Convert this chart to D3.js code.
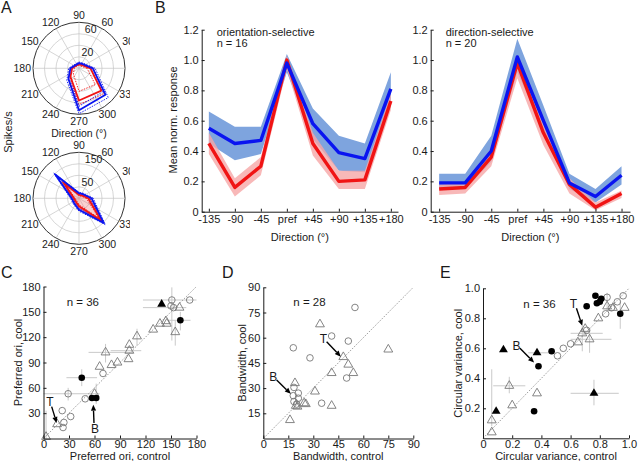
<!DOCTYPE html>
<html><head><meta charset="utf-8">
<script src="https://cdn.jsdelivr.net/npm/d3@7"></script>
<style>body{margin:0;background:#fff}svg{display:block}</style>
</head><body><svg id="c" width="640" height="461"></svg>
<script>
// ---------- DATA ----------
const directions = [0,45,90,135,180,225,270,315];
// Panel A top (direction-selective cell), spikes/s
const topBlue   = [24,10,9,8,15,26,73,65];
const topBlueLo = [20,8,7,6,12,22,66,58];
const topBlueHi = [28,12,11,10,18,30,79,72];
const topRed    = [20,8,7,7,12,21,56,55];
const topRedLo  = [14,5,5,5,8,14,40,40];
const topRedHi  = [25,10,9,9,15,25,63,62];
// Panel A bottom (orientation-selective cell)
const botBlue   = [55,25,22,146,32,30,50,152];
const botBlueLo = [48,20,18,135,27,25,44,142];
const botBlueHi = [62,30,26,156,37,35,56,162];
const botRed    = [40,18,15,94,22,20,35,136];
const botRedLo  = [32,13,11,80,17,15,28,122];
const botRedHi  = [48,23,19,108,27,25,42,150];
const polarAngleLabels = [0,30,60,90,120,150,180,210,240,270,300,330];

// Panel B
const bCategories = ["-135","-90","-45","pref","+45","+90","+135","+180"];
const bYTicks = [0,0.2,0.4,0.6,0.8,1.0,1.2];
const oriBlue   = [0.55,0.45,0.47,0.98,0.58,0.39,0.35,0.81];
const oriBlueLo = [0.45,0.34,0.38,0.92,0.48,0.27,0.26,0.70];
const oriBlueHi = [0.66,0.56,0.56,1.04,0.68,0.50,0.45,0.92];
const oriRed    = [0.45,0.16,0.30,1.00,0.45,0.20,0.21,0.73];
const oriRedLo  = [0.38,0.10,0.24,0.94,0.37,0.15,0.15,0.67];
const oriRedHi  = [0.52,0.22,0.36,1.03,0.52,0.27,0.27,0.78];
const dirBlue   = [0.19,0.19,0.40,1.02,0.60,0.19,0.10,0.24];
const dirBlueLo = [0.15,0.15,0.33,0.92,0.53,0.15,0.06,0.18];
const dirBlueHi = [0.25,0.25,0.50,1.14,0.70,0.25,0.15,0.30];
const dirRed    = [0.15,0.16,0.36,0.98,0.52,0.18,0.03,0.12];
const dirRedLo  = [0.11,0.12,0.30,0.88,0.44,0.12,0.01,0.09];
const dirRedHi  = [0.18,0.19,0.42,1.02,0.58,0.22,0.06,0.14];

// Panel C (preferred orientation)
const cTicks = [0,30,60,90,120,150,180];
const cOpenCircles = [[172,164],[151,164],[153,155],[150,157],[70,77],[49,47],[29,53],[22,33],[24,19],[23,13],[32,26]];
const cOpenTriangles = [[3,2],[16,17],[60,53],[73,102],[66,85],[80,87],[87,90],[100,94],[101,104],[101,111],[110,121],[129,129],[137,136],[144,139],[145,136],[155,126],[160,155]];
const cFilledCircles = [[45,72],[57,48],[62,48],[161,140]];
const cFilledTriangles = [[139,159]];
const cErr = [[151,164,117,180,116,179],[153,155,117,168,null,null],[161,140,147,173,128,150],[155,126,null,null,110,140],[73,102,53,106,90,112],[101,104,79,115,null,null],[110,121,null,null,110,130],[45,72,27,63,62,82],[29,53,0,66,45,60],[3,2,null,null,0,33],[62,48,null,null,41,65]];

// Panel D (bandwidth)
const dTicks = [0,15,30,45,60,75,90];
const dOpenCircles = [[55,78],[41,61],[51,58],[18,54],[28,48],[50,36],[35,21],[18.4,30.4],[18,25.5],[21,27],[21,24],[18.4,22],[20,20.5]];
const dOpenTriangles = [[34,68],[75,53],[48,48.5],[51,44],[54,39],[41,39],[19,33],[31,28],[24.5,21],[25.5,20.5],[41,19.5],[19.5,19.5],[20.5,19],[16,11]];

// Panel E (circular variance)
const eTicks = [0,0.2,0.4,0.6,0.8,1.0];
const eFilledCircles = [[0.77,0.95],[0.80,0.91],[0.78,0.90],[0.81,0.93],[0.71,0.88],[0.94,0.83],[0.47,0.58],[0.38,0.48],[0.35,0.18]];
const eFilledTriangles = [[0.14,0.59],[0.37,0.57],[0.09,0.18],[0.76,0.30]];
const eOpenCircles = [[0.51,0.55],[0.55,0.60],[0.60,0.63],[0.85,0.94],[0.96,0.95],[0.92,0.91],[0.84,0.83],[0.88,0.87],[0.71,0.72]];
const eOpenTriangles = [[0.97,0.87],[0.89,0.87],[0.85,0.88],[0.79,0.80],[0.70,0.73],[0.68,0.70],[0.73,0.66],[0.65,0.64],[0.37,0.30],[0.18,0.35],[0.20,0.22],[0.06,0.12],[0.06,0.04]];
const eErr = [[0.76,0.30,0.60,0.93,0.22,0.39],[0.18,0.35,0.07,0.29,0.30,0.41],[0.06,0.12,null,null,0.08,0.46],[0.73,0.66,0.60,0.88,0.57,0.70],[0.68,0.70,0.60,0.82,0.58,0.75],[0.94,0.83,null,null,0.73,0.92],[0.85,0.88,null,null,0.85,0.97],[0.37,0.57,0.31,0.47,null,null]];

// ---------- DRAW ----------
const FONT = '"Liberation Sans", Arial, Helvetica, sans-serif';
const svg = d3.select("#c");
const BLUE = "#0a14f0", RED = "#f01414", BLUEBAND = "#7ea4de", REDBAND = "#f6a6a6";
const INK = "#1a1a1a";

function txt(g, x, y, s, opts={}) {
  const t = g.append("text").attr("x", x).attr("y", y).text(s)
    .attr("font-family", FONT).attr("font-size", opts.size || 11)
    .attr("fill", opts.fill || INK).attr("text-anchor", opts.anchor || "start")
    .attr("dy", opts.dy == null ? "0.35em" : opts.dy);
  if (opts.rotate) t.attr("transform", `rotate(-90,${x},${y})`);
  return t;
}
function styleAxis(sel) {
  sel.attr("font-size", 11).attr("font-family", FONT);
  sel.selectAll("path,line").attr("stroke", INK);
  sel.selectAll("text").attr("fill", INK);
}

// ----- Panel A: polar plots -----
svg.append("clipPath").attr("id","clipA").append("rect").attr("x",0).attr("y",0).attr("width",130).attr("height",262);
const gA = svg.append("g").attr("clip-path","url(#clipA)");

function polar(cx, cy, R, rmax, step, labels, series, fillHi) {
  const g = gA.append("g").attr("transform", `translate(${cx},${cy})`);
  const r = d3.scaleLinear().domain([0, rmax]).range([0, R]);
  d3.range(step, rmax + 0.001, step).forEach(v => {
    g.append("circle").attr("r", r(v)).attr("fill", "none")
      .attr("stroke", v >= rmax - 1e-6 ? "#333" : "#c4c4c4").attr("stroke-width", v >= rmax - 1e-6 ? 1 : 0.7);
  });
  [0,30,60,90,120,150].forEach(a => {
    const t = a * Math.PI / 180;
    g.append("line").attr("x1", -R*Math.cos(t)).attr("y1", R*Math.sin(t))
      .attr("x2", R*Math.cos(t)).attr("y2", -R*Math.sin(t))
      .attr("stroke", "#c4c4c4").attr("stroke-width", 0.7);
  });
  polarAngleLabels.forEach(a => {
    const t = a * Math.PI / 180, L = R + 7;
    txt(g, L*Math.cos(t)*1.07, -L*Math.sin(t), String(a), {anchor: "middle", size: 10.5});
  });
  labels.forEach(v => {
    const t = 82 * Math.PI / 180;
    txt(g, r(v)*Math.cos(t) + 1, -r(v)*Math.sin(t) - 5, String(v), {anchor: "start", size: 10.5});
  });
  const line = d3.lineRadial()
    .angle((d, i) => Math.PI/2 - directions[i] * Math.PI / 180)
    .radius(d => r(d)).curve(d3.curveLinearClosed);
  if (fillHi) g.append("path").attr("d", line(fillHi)).attr("fill", "rgba(240,120,120,0.35)").attr("stroke", "none");
  series.forEach(s => {
    g.append("path").attr("d", line(s.d)).attr("fill", "none").attr("stroke", s.c)
      .attr("stroke-width", s.w).attr("stroke-dasharray", s.dash || null).attr("stroke-linejoin", "round");
  });
}
polar(79, 68.3, 46, 80, 20, [20, 60], [
  {d: topRedLo, c: RED, w: 0.9, dash: "1.5,1.2"},
  {d: topRedHi, c: RED, w: 0.9, dash: "1.5,1.2"},
  {d: topBlueLo, c: BLUE, w: 0.9, dash: "1.5,1.2"},
  {d: topBlueHi, c: BLUE, w: 0.9, dash: "1.5,1.2"},
  {d: topRed, c: RED, w: 1.8},
  {d: topBlue, c: BLUE, w: 1.8}
]);
polar(79, 198.3, 46, 200, 50, [50, 150], [
  {d: botRedLo, c: RED, w: 0.9, dash: "1.5,1.2"},
  {d: botRedHi, c: RED, w: 0.9, dash: "1.5,1.2"},
  {d: botBlueLo, c: BLUE, w: 0.9, dash: "1.5,1.2"},
  {d: botBlueHi, c: BLUE, w: 0.9, dash: "1.5,1.2"},
  {d: botRed, c: RED, w: 1.8},
  {d: botBlue, c: BLUE, w: 1.8}
], botRedHi);
txt(svg, 79, 133.4, "Direction (°)", {anchor: "middle", size: 10.5});
txt(svg, 8.5, 132, "Spikes/s", {anchor: "middle", rotate: true});

// ----- Panel B -----
function lineChart(x0, x1, pad, blue, blueLo, blueHi, red, redLo, redHi, title, n, showYLabel) {
  const g = svg.append("g");
  const x = d3.scalePoint().domain(bCategories).range([x0, x1]).padding(pad);
  const y = d3.scaleLinear().domain([0, 1.2]).range([211.7, 29.7]);
  const band = d3.area().x((d, i) => x(bCategories[i])).y0(d => y(d[0])).y1(d => y(d[1]));
  const ln = d3.line().x((d, i) => x(bCategories[i])).y(d => y(d));
  g.append("path").attr("d", band(d3.zip(blueLo, blueHi))).attr("fill", BLUEBAND);
  g.append("path").attr("d", band(d3.zip(redLo, redHi))).attr("fill", REDBAND).attr("fill-opacity", 0.8);
  g.append("path").attr("d", ln(red)).attr("fill", "none").attr("stroke", RED).attr("stroke-width", 3.4).attr("stroke-linejoin", "round");
  g.append("path").attr("d", ln(blue)).attr("fill", "none").attr("stroke", BLUE).attr("stroke-width", 3.4).attr("stroke-linejoin", "round");
  const ax = g.append("g").attr("transform", `translate(0,${y(0)})`)
    .call(d3.axisBottom(x).tickSizeInner(-3).tickSizeOuter(0).tickPadding(4));
  styleAxis(ax);
  const ay = g.append("g").attr("transform", `translate(${x0},0)`)
    .call(d3.axisLeft(y).tickValues(bYTicks).tickFormat(d => d === 0 ? "0" : d.toFixed(1)).tickSizeInner(-3).tickSizeOuter(0).tickPadding(3));
  styleAxis(ay);
  txt(g, x0 + 15, 31.7, title);
  txt(g, x0 + 15, 43.5, n);
  txt(g, (x0 + x1) / 2, 236.7, "Direction (°)", {anchor: "middle"});
  if (showYLabel) txt(g, 173.5, 120, "Mean norm. response", {anchor: "middle", rotate: true});
}
lineChart(201.7, 398, 0.275, oriBlue, oriBlueLo, oriBlueHi, oriRed, oriRedLo, oriRedHi, "orientation-selective", "n = 16", true);
lineChart(430.7, 630, 0.325, dirBlue, dirBlueLo, dirBlueHi, dirRed, dirRedLo, dirRedHi, "direction-selective", "n = 20", false);

// ----- Scatter panels -----
function scatter(cfg) {
  const g = svg.append("g");
  const x = d3.scaleLinear().domain(cfg.dom).range(cfg.xr);
  const y = d3.scaleLinear().domain(cfg.dom).range(cfg.yr);
  (cfg.err || []).forEach(e => {
    if (e[2] != null) g.append("line").attr("x1", x(e[2])).attr("x2", x(e[3])).attr("y1", y(e[1])).attr("y2", y(e[1])).attr("stroke", "#c9c9c9").attr("stroke-width", 1);
    if (e[4] != null) g.append("line").attr("x1", x(e[0])).attr("x2", x(e[0])).attr("y1", y(e[4])).attr("y2", y(e[5])).attr("stroke", "#c9c9c9").attr("stroke-width", 1);
  });
  g.append("line").attr("x1", x(cfg.dom[0])).attr("y1", y(cfg.dom[0])).attr("x2", x(cfg.dom[1])).attr("y2", y(cfg.dom[1]))
    .attr("stroke", "#8a8a8a").attr("stroke-width", 0.8).attr("stroke-dasharray", "1.6,1.4");
  const tri = d3.symbol(d3.symbolTriangle, 34);
  (cfg.oc || []).forEach(p => g.append("circle").attr("cx", x(p[0])).attr("cy", y(p[1])).attr("r", 3.3).attr("fill", "none").attr("stroke", "#777").attr("stroke-width", 0.9));
  (cfg.ot || []).forEach(p => g.append("path").attr("d", tri()).attr("transform", `translate(${x(p[0])},${y(p[1])})`).attr("fill", "none").attr("stroke", "#777").attr("stroke-width", 0.9));
  (cfg.fc || []).forEach(p => g.append("circle").attr("cx", x(p[0])).attr("cy", y(p[1])).attr("r", 3.3).attr("fill", "#000"));
  (cfg.ft || []).forEach(p => g.append("path").attr("d", tri()).attr("transform", `translate(${x(p[0])},${y(p[1])})`).attr("fill", "#000"));
  const ax = g.append("g").attr("transform", `translate(0,${cfg.yr[0]})`)
    .call(d3.axisBottom(x).tickValues(cfg.ticks).tickFormat(cfg.fmt).tickSizeInner(-3).tickSizeOuter(0).tickPadding(2));
  styleAxis(ax);
  const ay = g.append("g").attr("transform", `translate(${cfg.xr[0]},0)`)
    .call(d3.axisLeft(y).tickValues(cfg.ticks.slice(1)).tickFormat(cfg.fmt).tickSizeInner(-3).tickSizeOuter(0).tickPadding(3));
  styleAxis(ay);
  cfg.ann.forEach(a => {
    txt(g, x(a.t[0]), y(a.t[1]), a.s, {anchor: "middle", size: 12});
    const x1 = x(a.from[0]), y1 = y(a.from[1]), x2 = x(a.to[0]), y2 = y(a.to[1]);
    const ang = Math.atan2(y2 - y1, x2 - x1), L = 6, W = 2.6;
    const bx = x2 - L*Math.cos(ang), by = y2 - L*Math.sin(ang);
    g.append("line").attr("x1", x1).attr("y1", y1).attr("x2", bx).attr("y2", by).attr("stroke", "#000").attr("stroke-width", 1.4);
    g.append("path").attr("d", `M${x2},${y2}L${bx - W*Math.sin(ang)},${by + W*Math.cos(ang)}L${bx + W*Math.sin(ang)},${by - W*Math.cos(ang)}Z`).attr("fill", "#000");
  });
  txt(g, cfg.nPos[0], cfg.nPos[1], cfg.n, {size: 11.5});
  txt(g, (cfg.xr[0] + cfg.xr[1]) / 2, 456.5, cfg.xl, {anchor: "middle"});
  txt(g, cfg.ylx, (cfg.yr[0] + cfg.yr[1]) / 2, cfg.yl, {anchor: "middle", rotate: true});
}
const intFmt = d => String(d);
const decFmt = d => d === 0 ? "0" : d.toFixed(1);
scatter({dom: [0,180], xr: [43.5,196.5], yr: [438.5,286.5], ticks: cTicks, fmt: intFmt,
  oc: cOpenCircles, ot: cOpenTriangles, fc: cFilledCircles, ft: cFilledTriangles, err: cErr,
  ann: [{s: "T", t: [7.6,43.6], from: [9.6,37.7], to: [15.5,18.5]}, {s: "B", t: [60.6,10.9], from: [59.4,18.4], to: [58.6,40]}],
  n: "n = 36", nPos: [66.7,301.7], xl: "Preferred ori, control", yl: "Preferred ori, cool", ylx: 18.5});
scatter({dom: [0,90], xr: [263.3,413.3], yr: [438.5,287.3], ticks: dTicks, fmt: intFmt,
  oc: dOpenCircles, ot: dOpenTriangles,
  ann: [{s: "T", t: [36,59.6], from: [38,57.6], to: [46.5,48.7]}, {s: "B", t: [6,36.8], from: [8,34.8], to: [16.5,26.6]}],
  n: "n = 28", nPos: [293.3,301.7], xl: "Bandwidth, control", yl: "Bandwidth, cool", ylx: 241.7});
scatter({dom: [0,1], xr: [483,629], yr: [438.3,288.3], ticks: eTicks, fmt: decFmt,
  oc: eOpenCircles, ot: eOpenTriangles, fc: eFilledCircles, ft: eFilledTriangles, err: eErr,
  ann: [{s: "T", t: [0.62,0.90], from: [0.64,0.867], to: [0.68,0.75]}, {s: "B", t: [0.23,0.62], from: [0.253,0.60], to: [0.35,0.505]}],
  n: "n = 36", nPos: [523.3,304], xl: "Circular variance, control", yl: "Circular variance, cool", ylx: 458.3});

[["A",1,7],["B",155,7],["C",1,272],["D",222,272],["E",440,272]].forEach(p => txt(svg, p[1], p[2], p[0], {size: 16}));
</script></body></html>
